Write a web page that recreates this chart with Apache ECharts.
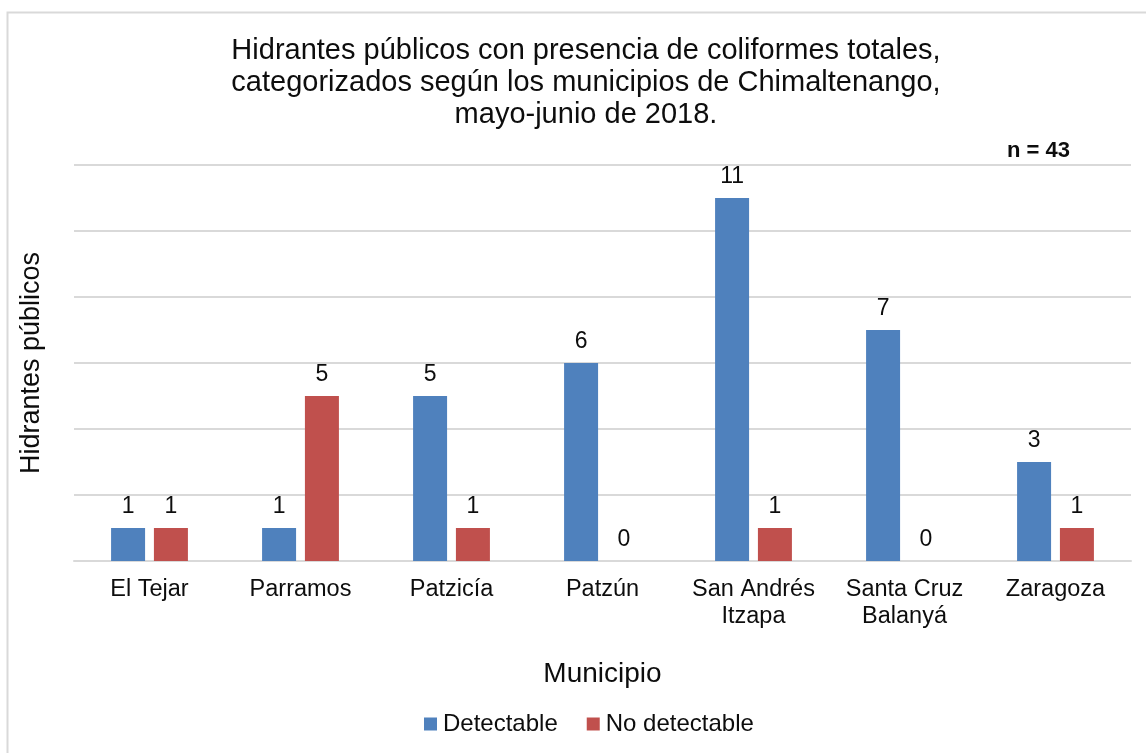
<!DOCTYPE html>
<html>
<head>
<meta charset="utf-8">
<script src="https://cdn.jsdelivr.net/npm/echarts@6/dist/echarts.min.js"></script>
<style>
  html, body { margin: 0; padding: 0; background: #fff; }
  #chart { width: 1146px; height: 753px; }
</style>
</head>
<body>
<div id="chart"></div>
<script>
const municipios = ['El Tejar', 'Parramos', 'Patzicía', 'Patzún', 'San Andrés\nItzapa', 'Santa Cruz\nBalanyá', 'Zaragoza']
const detectable = [1, 1, 5, 6, 11, 7, 3]
const noDetectable = [1, 5, 1, 0, 1, 0, 1]
const seriesNames = ['Detectable', 'No detectable']

const FONT = '"Liberation Sans", Arial, sans-serif'
const gridColor = '#d9d9d9'

const chart = echarts.init(document.getElementById('chart'))

const barLabel = {
  show: true,
  position: 'top',
  distance: 10,
  color: '#0d0d0d',
  fontFamily: FONT,
  fontSize: 23,
}

chart.setOption({
  backgroundColor: '#fff',
  animation: false,
  title: [
    {
      text: 'Hidrantes públicos con presencia de coliformes totales,\ncategorizados según los municipios de Chimaltenango,\nmayo-junio de 2018.',
      left: 581,
      top: 30,
      textAlign: 'center',
      textStyle: { fontFamily: FONT, fontSize: 29, fontWeight: 'normal', color: '#0d0d0d', lineHeight: 32 },
    },
    {
      text: 'n = 43',
      left: 1002,
      top: 135,
      textStyle: { fontFamily: FONT, fontSize: 22, fontWeight: 'bold', color: '#0d0d0d' },
    },
  ],
  graphic: [
    {
      type: 'rect',
      left: 5,
      top: 10,
      shape: { width: 1300, height: 900 },
      style: { fill: 'none', stroke: gridColor, lineWidth: 2 },
      silent: true,
    },
  ],
  legend: {
    data: seriesNames,
    left: 424,
    top: 712,
    padding: 0,
    itemWidth: 13,
    itemHeight: 13,
    itemGap: 29,
    icon: 'rect',
    textStyle: { fontFamily: FONT, fontSize: 24, color: '#0d0d0d', padding: [0, 0, 0, 1] },
  },
  grid: { left: 74, right: 15, top: 165, bottom: 192 },
  xAxis: {
    type: 'category',
    data: municipios,
    name: 'Municipio',
    nameLocation: 'middle',
    nameGap: 99,
    nameTextStyle: { fontFamily: FONT, fontSize: 28, color: '#0d0d0d' },
    axisLine: { lineStyle: { color: gridColor, width: 2 } },
    axisTick: { show: false },
    axisLabel: {
      interval: 0,
      margin: 15,
      fontFamily: FONT,
      fontSize: 23.5,
      lineHeight: 27,
      color: '#0d0d0d',
    },
  },
  yAxis: {
    type: 'value',
    min: 0,
    max: 12,
    interval: 2,
    name: 'Hidrantes públicos',
    nameLocation: 'middle',
    nameGap: 29,
    nameTextStyle: { fontFamily: FONT, fontSize: 27, color: '#0d0d0d' },
    axisLine: { show: false },
    axisTick: { show: false },
    axisLabel: { show: false },
    splitLine: { lineStyle: { color: gridColor, width: 2 } },
  },
  series: [
    {
      name: seriesNames[0],
      type: 'bar',
      data: detectable,
      barWidth: 34,
      barGap: '26%',
      itemStyle: { color: '#4f81bd' },
      label: barLabel,
    },
    {
      name: seriesNames[1],
      type: 'bar',
      data: noDetectable,
      barWidth: 34,
      barGap: '26%',
      itemStyle: { color: '#c0504d' },
      label: barLabel,
    },
  ],
})
</script>
</body>
</html>
